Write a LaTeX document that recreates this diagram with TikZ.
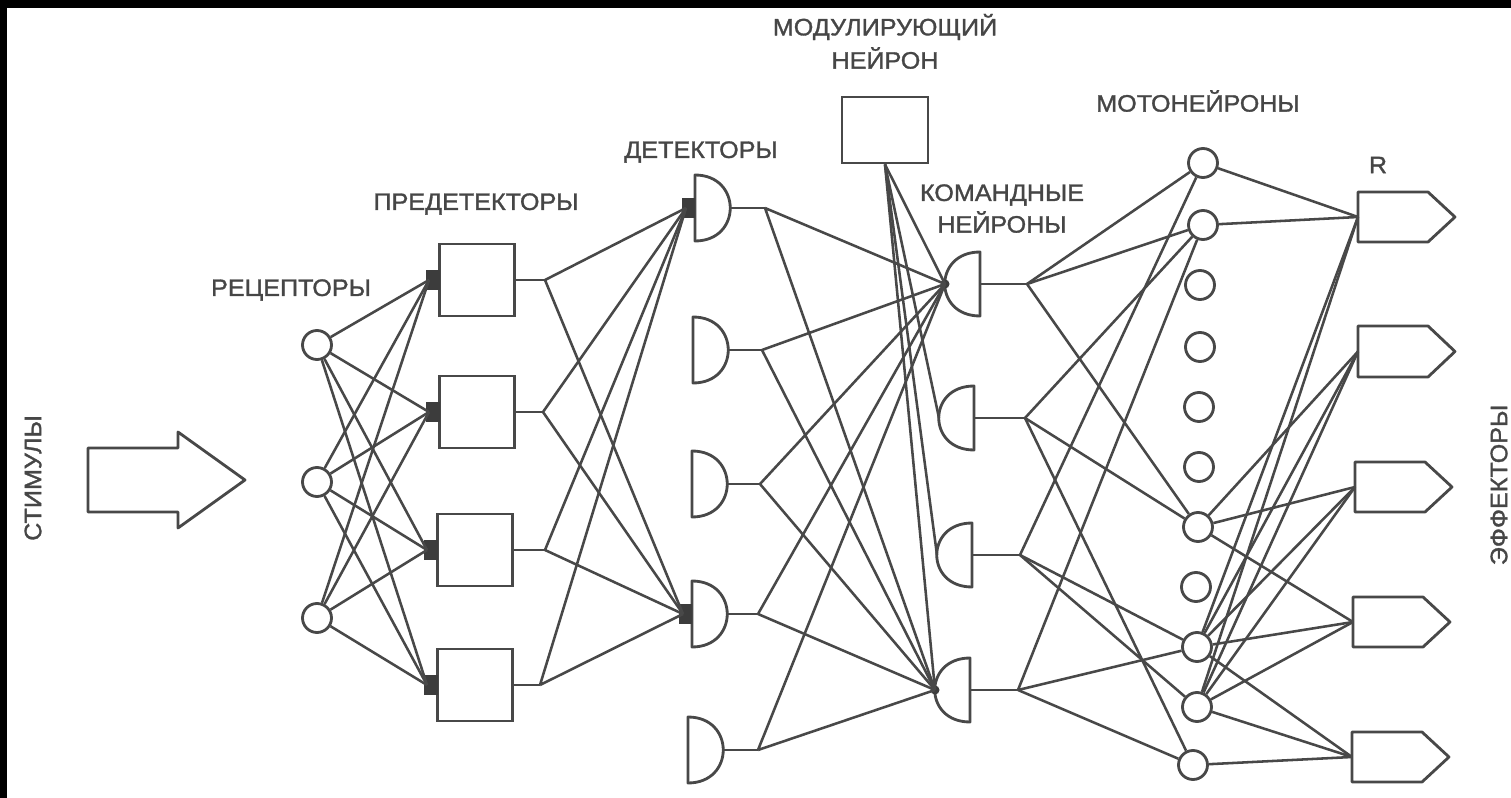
\documentclass[tikz,border=0pt]{standalone}
\usepackage{fontspec}
\setmainfont{Liberation Sans}
\newfontfamily\lblfont[FakeStretch=1.06,FakeBold=1.3]{Liberation Sans}
\definecolor{lncol}{RGB}{72,72,72}
\definecolor{txtcol}{RGB}{70,70,70}
\definecolor{syncol}{RGB}{60,60,60}
\begin{document}
\begin{tikzpicture}[x=0.2mm,y=-0.2mm,
  ink/.style={draw=lncol, line width=1.6pt, line join=round},
  wire/.style={draw=lncol, line width=1.45pt},
  lbl/.style={text=txtcol, font=\lblfont\fontsize{13.5}{14}\selectfont, inner sep=0pt, anchor=center},
  cell/.style={circle, draw=lncol, line width=1.6pt, minimum size=5.8mm, inner sep=0pt, fill=white},
  box/.style={rectangle, draw=lncol, line width=1.6pt, minimum width=15mm, minimum height=14.4mm, inner sep=0pt, fill=white},
  modbox/.style={rectangle, draw=lncol, line width=1.6pt, minimum width=17.2mm, minimum height=13.2mm, inner sep=0pt, fill=white},
  syn/.style={fill=syncol, draw=none},
]
% canvas
\fill[white] (0,0) rectangle (1511,798);
\path[use as bounding box] (0,0) rectangle (1511,798);
\fill[black] (0,0) rectangle (1511,8);
\fill[black] (0,0) rectangle (7,798);

% labels
\node[lbl] (tmod1) at (885,27) {МОДУЛИРУЮЩИЙ};
\node[lbl] (tmod2) at (885,58) {НЕЙРОН};
\node[lbl] (tmot) at (1198,101) {МОТОНЕЙРОНЫ};
\node[lbl] (tr) at (1378,165) {R};
\node[lbl] (tdet) at (701,152) {ДЕТЕКТОРЫ};
\node[lbl] (tcom1) at (1002,195) {КОМАНДНЫЕ};
\node[lbl] (tcom2) at (1002,222) {НЕЙРОНЫ};
\node[lbl] (tpre) at (476,204) {ПРЕДЕТЕКТОРЫ};
\node[lbl] (trec) at (291,290) {РЕЦЕПТОРЫ};
\node[lbl, rotate=90] (tstim) at (33,478) {СТИМУЛЫ};
\node[lbl, rotate=90] (teff) at (1499,485) {ЭФФЕКТОРЫ};

% stimulus arrow
\draw[ink, fill=white] (88,448) -- (178,448) -- (178,432) -- (245,480) -- (178,528) -- (178,512) -- (88,512) -- cycle;

% receptors
\foreach \i/\y in {1/345, 2/482, 3/618}
  \node[cell] (r\i) at (317,\y) {};

% predetectors
\foreach \i/\x/\y/\f in {1/477/280/545, 2/477/412/543, 3/475/550/545, 4/475/685/540} {
  \node[box] (p\i) at (\x,\y) {};
  \fill[syn] (\x-51,\y-10) rectangle (\x-37.5,\y+10);
  \coordinate (pin\i) at (\x-48,\y);
  \coordinate (pf\i) at (\f,\y);
  \draw[wire] (p\i.east) -- (pf\i);
}

% detectors
\foreach \i/\x/\y/\f in {1/695/208/765, 2/693/350/762, 3/692/484/760, 4/692/614/758, 5/688/750/758} {
  \draw[ink, fill=white] (\x,\y-33) .. controls (\x+47,\y-33) and (\x+47,\y+33) .. (\x,\y+33) -- cycle;
  \coordinate (din\i) at (\x-9,\y);
  \coordinate (dout\i) at (\f,\y);
  \draw[wire] (\x+35,\y) -- (dout\i);
}
\fill[syn] (682,198) rectangle (695,218);
\fill[syn] (679,604) rectangle (692,624);

% modulating neuron
\node[modbox] (mod) at (885,130) {};

% command neurons
\foreach \i/\x/\y/\f in {1/980/284/1027, 2/974/418/1025, 3/972/555/1020, 4/970/690/1018} {
  \draw[ink, fill=white] (\x,\y-32) .. controls (\x-47,\y-32) and (\x-47,\y+32) .. (\x,\y+32) -- cycle;
  \coordinate (cin\i) at (\x-35,\y);
  \coordinate (cout\i) at (\f,\y);
  \draw[wire] (\x,\y) -- (cout\i);
}
\fill[syn] (cin1) circle (4.5);
\fill[syn] (cin4) circle (4.5);

% motoneurons
\foreach \i/\x/\y in {1/1203/163, 2/1203/225, 3/1200/285, 4/1200/347, 5/1199/407, 6/1199/467, 7/1198/527, 8/1196/587, 9/1197/647, 10/1197/707, 11/1193/765}
  \node[cell] (m\i) at (\x,\y) {};

% effectors
\foreach \i/\L/\T/\B in {1/1358/192/242, 2/1358/326/377, 3/1355/462/512, 4/1353/597/647, 5/1352/732/782} {
  \draw[ink, fill=white] (\L,\T) -- (\L+70,\T) -- (\L+97,{(\T+\B)/2}) -- (\L+70,\B) -- (\L,\B) -- cycle;
  \coordinate (ein\i) at (\L,{(\T+\B)/2});
}

% connections
\foreach \i in {1,2,3}
  \foreach \j in {1,...,4}
    \draw[wire] (r\i) -- (pin\j);
\foreach \j in {1,...,4}
  \draw[wire] (pf\j) -- (din1) (pf\j) -- (din4);
\foreach \k in {1,...,5}
  \draw[wire] (dout\k) -- (cin1) (dout\k) -- (cin4);
\foreach \k in {1,...,4}
  \draw[wire] (mod.south) -- (cin\k);
\foreach \a/\b in {1/1, 1/2, 1/7, 2/2, 2/7, 2/11, 3/1, 3/9, 3/10, 4/2, 4/9, 4/11}
  \draw[wire] (cout\a) -- (m\b);
\foreach \a/\b in {1/1, 2/1, 7/2, 7/3, 7/4, 9/1, 9/2, 9/3, 9/4, 9/5, 10/1, 10/2, 10/3, 10/4, 10/5, 11/5}
  \draw[wire] (m\a) -- (ein\b);
\end{tikzpicture}
\end{document}
